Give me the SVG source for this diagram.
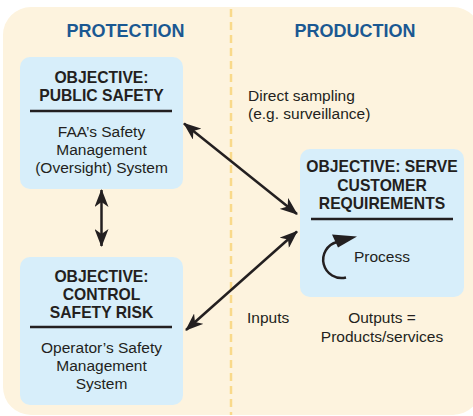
<svg xmlns="http://www.w3.org/2000/svg" width="473" height="416" viewBox="0 0 473 416">
<defs>
<style>
.bg{fill:#fdf3de}
.node{fill:#d7eefa}
.hdr{font-family:"Liberation Sans",Arial,sans-serif;font-weight:bold;font-size:18px;fill:#1a5892;text-anchor:middle}
.b{font-family:"Liberation Sans",Arial,sans-serif;font-weight:bold;font-size:15.7px;fill:#231f20;text-anchor:middle}
.t{font-family:"Liberation Sans",Arial,sans-serif;font-size:15.5px;fill:#231f20;text-anchor:middle}
.tl{font-family:"Liberation Sans",Arial,sans-serif;font-size:15.5px;fill:#231f20}
.rule{stroke:#231f20;stroke-width:2.5}
.conn{stroke:#231f20;stroke-width:2.5;fill:none}
</style>
<marker id="ah" viewBox="0 0 18 14" refX="17" refY="7" markerWidth="18" markerHeight="14" markerUnits="userSpaceOnUse" orient="auto-start-reverse">
<path d="M0,0 L18,7 L0,14 L5,7 Z" fill="#231f20"/>
</marker>
</defs>
<rect class="bg" x="3" y="7" width="478" height="408" rx="28"/>
<line x1="231" y1="9" x2="231" y2="415" stroke="#f9d98a" stroke-width="2.5" stroke-dasharray="8,5"/>
<text class="hdr" x="125.5" y="37">PROTECTION</text>
<text class="hdr" x="355" y="37">PRODUCTION</text>
<text class="tl" x="248" y="101">Direct sampling</text>
<text class="tl" x="248" y="119">(e.g. surveillance)</text>
<text class="tl" x="247" y="323">Inputs</text>
<text class="t" x="382" y="323">Outputs =</text>
<text class="t" x="382" y="342">Products/services</text>
<g id="node-public-safety">
<rect class="node" x="20" y="57" width="163" height="132" rx="10"/>
<text class="b" x="101.5" y="83">OBJECTIVE:</text>
<text class="b" x="101.5" y="101">PUBLIC SAFETY</text>
<line class="rule" x1="30" y1="111" x2="172" y2="111"/>
<text class="t" x="101.5" y="137">FAA’s Safety</text>
<text class="t" x="101.5" y="155">Management</text>
<text class="t" x="101.5" y="173">(Oversight) System</text>
</g>
<g id="node-control-risk">
<rect class="node" x="20" y="257" width="163" height="148" rx="10"/>
<text class="b" x="101.5" y="282">OBJECTIVE:</text>
<text class="b" x="101.5" y="300">CONTROL</text>
<text class="b" x="101.5" y="318">SAFETY RISK</text>
<line class="rule" x1="30" y1="327" x2="172" y2="327"/>
<text class="t" x="101.5" y="353">Operator’s Safety</text>
<text class="t" x="101.5" y="371">Management</text>
<text class="t" x="101.5" y="389">System</text>
</g>
<g id="node-serve-customer">
<rect class="node" x="300" y="149" width="164" height="148" rx="10"/>
<text class="b" x="382" y="172">OBJECTIVE: SERVE</text>
<text class="b" x="382" y="191">CUSTOMER</text>
<text class="b" x="382" y="209">REQUIREMENTS</text>
<line class="rule" x1="311" y1="219" x2="453" y2="219"/>
<text class="tl" x="354" y="262">Process</text>
<path class="conn" d="M346,277.5 A18,18 0 0 1 337,242" stroke-width="2.8"/>
<polygon points="357,236.5 332,234.5 338,247.5" fill="#231f20"/>
</g>
<g id="connectors">
<line class="conn" x1="184" y1="123.5" x2="297" y2="214" marker-start="url(#ah)" marker-end="url(#ah)"/>
<line class="conn" x1="101.5" y1="190" x2="101.5" y2="246" marker-start="url(#ah)" marker-end="url(#ah)"/>
<line class="conn" x1="186" y1="330" x2="297" y2="231.5" marker-start="url(#ah)" marker-end="url(#ah)"/>
</g>
</svg>
